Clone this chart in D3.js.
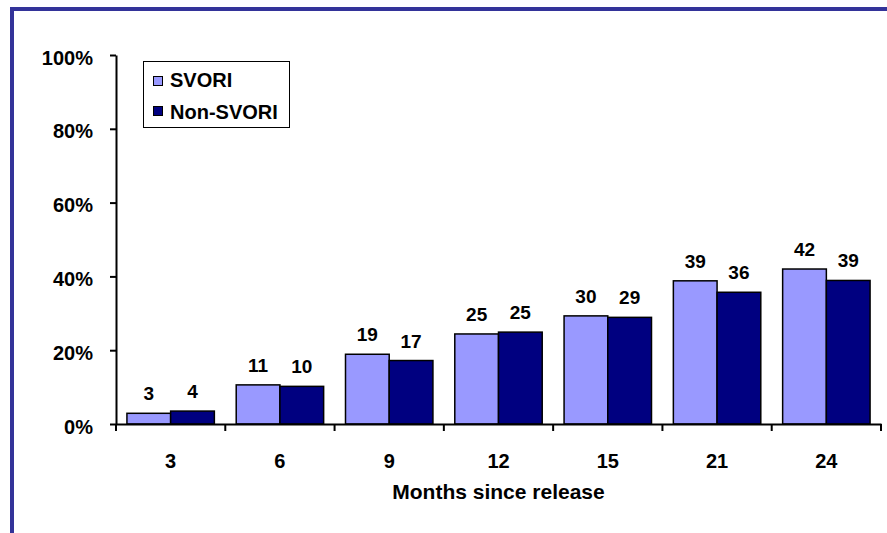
<!DOCTYPE html>
<html>
<head>
<meta charset="utf-8">
<script src="https://cdn.jsdelivr.net/npm/d3@7"></script>
<style>
  body { margin: 0; background: #fff; }
  svg { display: block; }
  text { font-family: Arial, "Liberation Sans", sans-serif; font-weight: bold; fill: #000; }
</style>
</head>
<body>
<svg id="chart" width="887" height="533"></svg>
<script>
// ---- data ----
const categories = ["3", "6", "9", "12", "15", "21", "24"];
const seriesNames = ["SVORI", "Non-SVORI"];
const svoriValues = [2.9, 10.6, 18.9, 24.4, 29.3, 38.8, 42.0];
const nonSvoriValues = [3.5, 10.2, 17.2, 24.9, 28.9, 35.7, 38.9];
const svoriLabels = [3, 11, 19, 25, 30, 39, 42];
const nonSvoriLabels = [4, 10, 17, 25, 29, 36, 39];
const yTickValues = [0, 20, 40, 60, 80, 100];
const xTitle = "Months since release";

const colors = { "SVORI": "#9999FF", "Non-SVORI": "#000080" };

const svg = d3.select("#chart");

// frame
svg.append("rect")
  .attr("x", 12).attr("y", 9)
  .attr("width", 900).attr("height", 600)
  .attr("fill", "none")
  .attr("stroke", "#333399")
  .attr("stroke-width", 4);

const plot = { left: 116, right: 881, top: 55, bottom: 424 };

const x = d3.scaleBand().domain(categories).range([plot.left, plot.right]).paddingInner(0).paddingOuter(0);
const x1 = d3.scaleBand().domain(seriesNames).range([0, x.bandwidth()]).paddingInner(0).paddingOuter(0.25);
const y = d3.scaleLinear().domain([0, 100]).range([plot.bottom, plot.top]);

const rows = categories.map((c, i) => ({
  cat: c,
  bars: [
    { s: "SVORI", v: svoriValues[i], label: svoriLabels[i] },
    { s: "Non-SVORI", v: nonSvoriValues[i], label: nonSvoriLabels[i] }
  ]
}));

// bars
const groups = svg.append("g").selectAll("g")
  .data(rows).join("g")
  .attr("transform", d => `translate(${x(d.cat)},0)`);

groups.selectAll("rect")
  .data(d => d.bars).join("rect")
  .attr("x", d => x1(d.s))
  .attr("width", x1.bandwidth())
  .attr("y", d => y(d.v))
  .attr("height", d => y(0) - y(d.v))
  .attr("fill", d => colors[d.s])
  .attr("stroke", "#000")
  .attr("stroke-width", 1.5);

groups.selectAll("text")
  .data(d => d.bars).join("text")
  .attr("x", d => x1(d.s) + x1.bandwidth() / 2)
  .attr("y", d => y(d.v) - 13)
  .attr("text-anchor", "middle")
  .style("font-size", "19px")
  .text(d => d.label);

// y axis
const yAxis = svg.append("g")
  .attr("transform", `translate(${plot.left},0)`)
  .call(d3.axisLeft(y).tickValues(yTickValues).tickFormat(d => d + "%").tickSizeInner(6).tickSizeOuter(0).tickPadding(17));
yAxis.select(".domain").attr("stroke", "#000").attr("stroke-width", 2);
yAxis.selectAll(".tick line").attr("stroke", "#000").attr("stroke-width", 2);
yAxis.selectAll(".tick text").style("font-size", "20px").style("font-family", "Arial, 'Liberation Sans', sans-serif").style("font-weight", "bold").attr("dy", "0.45em");

// x axis
const xAxis = svg.append("g")
  .attr("transform", `translate(0,${plot.bottom})`)
  .call(d3.axisBottom(x).tickSize(0).tickSizeOuter(0));
xAxis.select(".domain").attr("stroke", "#000").attr("stroke-width", 2);
xAxis.selectAll(".tick text")
  .attr("y", 44).attr("dy", 0)
  .style("font-size", "20px").style("font-family", "Arial, 'Liberation Sans', sans-serif").style("font-weight", "bold");
const boundaries = categories.map(c => x(c)).concat([x.range()[1]]);
xAxis.selectAll(".bound").data(boundaries).join("line")
  .attr("class", "bound")
  .attr("x1", d => d).attr("x2", d => d)
  .attr("y1", 0).attr("y2", 7)
  .attr("stroke", "#000").attr("stroke-width", 2);

// x title
svg.append("text")
  .attr("x", (plot.left + plot.right) / 2)
  .attr("y", 499)
  .attr("text-anchor", "middle")
  .style("font-size", "21px")
  .text(xTitle);

// legend
const legend = svg.append("g");
legend.append("rect")
  .attr("x", 143.5).attr("y", 61.5)
  .attr("width", 146).attr("height", 66)
  .attr("fill", "#fff").attr("stroke", "#000").attr("stroke-width", 1);
const legItems = legend.selectAll("g.item").data(seriesNames).join("g").attr("class", "item");
const legSwatchY = [76, 106];
const legTextY = [87, 119];
legItems.append("rect")
  .attr("x", 153.5).attr("y", (d, i) => legSwatchY[i] + 0.5)
  .attr("width", 9).attr("height", 9)
  .attr("fill", d => colors[d]).attr("stroke", "#000").attr("stroke-width", 1);
legItems.append("text")
  .attr("x", 170).attr("y", (d, i) => legTextY[i])
  .style("font-size", "20px")
  .text(d => d);
</script>
</body>
</html>
